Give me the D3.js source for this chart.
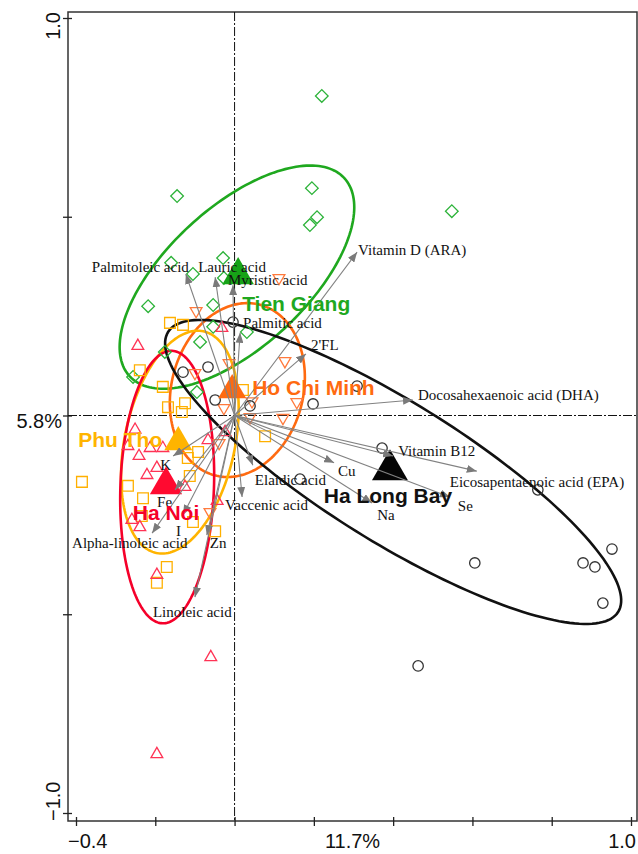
<!DOCTYPE html>
<html>
<head>
<meta charset="utf-8">
<script src="https://cdn.jsdelivr.net/npm/d3@7"></script>
<style>
  html, body { margin: 0; padding: 0; background: #fff; }
  svg { display: block; }
</style>
</head>
<body>
<svg id="chart" width="638" height="854"></svg>
<script>
// ---- Sample scores (axis 1, axis 2) per region ----
const tienGiangSamples = [
  [0.220, 0.804], [-0.145, 0.552], [0.195, 0.572], [0.208, 0.499], [0.190, 0.479],
  [0.548, 0.514], [-0.029, 0.396], [-0.160, 0.384], [-0.105, 0.356], [-0.027, 0.346],
  [-0.218, 0.275], [-0.054, 0.278], [-0.054, 0.223], [0.031, 0.210], [-0.087, 0.185],
  [-0.176, 0.160], [-0.256, 0.097], [-0.095, 0.059]
];
const hoChiMinhSamples = [
  [0.112, 0.346], [-0.097, 0.263], [0.127, 0.137], [-0.014, 0.132], [-0.100, 0.107],
  [-0.027, 0.019], [0.044, 0.036], [0.039, -0.004], [0.122, -0.006], [0.157, 0.034],
  [-0.039, -0.069], [-0.062, -0.243]
];
const phuThoSamples = [
  [-0.163, 0.233], [-0.130, 0.228], [-0.239, 0.114], [-0.181, 0.072], [-0.168, 0.021],
  [-0.125, 0.031], [-0.133, 0.009], [0.021, 0.064], [0.077, -0.052], [-0.092, -0.092],
  [-0.118, -0.107], [-0.113, -0.152], [-0.385, -0.167], [-0.269, -0.177], [-0.231, -0.208],
  [-0.234, -0.253], [-0.105, -0.268], [-0.049, -0.291], [-0.171, -0.381], [-0.196, -0.421]
];
const haNoiSamples = [
  [-0.244, 0.175], [-0.032, 0.220], [-0.251, -0.036], [-0.269, -0.077], [-0.213, -0.082],
  [-0.181, -0.082], [-0.241, -0.102], [-0.221, -0.150], [-0.196, -0.132], [-0.125, -0.180],
  [-0.024, -0.042], [-0.067, -0.062], [-0.044, -0.215], [-0.259, -0.263], [-0.239, -0.281],
  [-0.196, -0.401], [-0.060, -0.608], [-0.196, -0.852]
];
const haLongBaySamples = [
  [-0.004, 0.235], [-0.130, 0.109], [-0.067, 0.122], [-0.049, 0.039], [0.039, 0.024],
  [0.198, 0.029], [0.309, 0.074], [0.165, -0.160], [0.372, -0.082], [0.765, -0.187],
  [0.606, -0.371], [0.879, -0.371], [0.909, -0.381], [0.952, -0.336], [0.929, -0.472],
  [0.463, -0.630]
];

// ---- Region centroids and confidence ellipses ----
const regionNames = ["Tien Giang", "Ho Chi Minh", "Phu Tho", "Ha Noi", "Ha Long Bay"];
const regionCentroids = [[0.009, 0.353], [-0.006, 0.064], [-0.142, -0.067], [-0.173, -0.175], [0.392, -0.137]];
const ellipseCenters = [[0.006, 0.348], [0.007, 0.064], [-0.138, -0.067], [-0.170, -0.180], [0.400, -0.142]];
const ellipseSemiAxes = [[0.368, 0.176], [0.222, 0.166], [0.285, 0.139], [0.343, 0.118], [0.668, 0.176]];
const ellipseAngles = [42.6, 75, 78, 88, -31.8];   // degrees, major axis from +x

// ---- Nutrient vectors ----
const nutrientNames = [
  "Vitamin D (ARA)", "Palmitoleic acid", "Lauric acid", "Myristic acid", "Palmitic acid",
  "2'FL", "Docosahexaenoic acid (DHA)", "Vitamin B12", "Eicosapentaenoic acid (EPA)", "Se",
  "Na", "Cu", "Elaidic acid", "Vaccenic acid", "Zn",
  "I", "Alpha-linoleic acid", "Fe", "K", "Linoleic acid"
];
const nutrientX = [0.309, -0.123, -0.049, -0.004, 0.014, 0.180, 0.450, 0.400, 0.611, 0.543,
                   0.347, 0.251, 0.046, 0.019, -0.070, -0.130, -0.208, -0.150, -0.155, -0.100];
const nutrientY = [0.411, 0.356, 0.348, 0.328, 0.208, 0.155, 0.039, -0.102, -0.140, -0.205,
                   -0.220, -0.119, -0.125, -0.205, -0.301, -0.250, -0.296, -0.187, -0.102, -0.457];

// ---- Axis ticks ----
const xTicks = [-0.4, -0.2, 0, 0.2, 0.4, 0.6, 0.8, 1.0];
const yTicks = [-1.0, -0.5, 0, 0.5, 1.0];
const xAxisTitle = "11.7%";
const yAxisTitle = "5.8%";

// ---- Layout & styles ----
const frame = { left: 68, right: 637, top: 12, bottom: 821 };
const regionStroke = ["#1fa81f", "#ff6a10", "#ffb400", "#f5002a", "#111111"];
const markerStroke = ["#2db33a", "#ff7a3d", "#ffb000", "#ff3355", "#333333"];
const centroidFill = ["#17a317", "#ff6a10", "#ffb400", "#ff0a30", "#050505"];
const centroidSize = [430, 340, 340, 450, 560];
const regionLabelOffset = [[4, 36, "start"], [20, 5, "start"], [-16, 5, "end"], [0, 35, "middle"], [-2, 33, "middle"]];
const nutrientLabelOffset = [[1, 3], [-94, -2], [-17, -5], [-5, 0], [3, -5], [5, -4], [5, 0], [5, 0], [-27, 16], [8, 14],
                             [5, 17], [4, 13], [2, 20], [-17, 13], [3, 13], [-7, 21], [-80, 15], [-18, 17], [-13, 14], [-42, 20]];

const svg = d3.select("#chart");
const x = d3.scaleLinear().domain([-0.4, 1.0]).range([76, 631]);
const y = d3.scaleLinear().domain([-1.0, 1.0]).range([813, 18]);

// frame
svg.append("rect")
  .attr("x", frame.left).attr("y", frame.top)
  .attr("width", frame.right - frame.left).attr("height", frame.bottom - frame.top)
  .attr("fill", "none").attr("stroke", "#333").attr("stroke-width", 1.5);

// ticks crossing the frame
svg.append("g").attr("transform", `translate(0,${frame.bottom - 4})`)
  .call(d3.axisBottom(x).tickValues(xTicks).tickSize(9).tickFormat(""))
  .call(g => { g.select(".domain").remove(); g.selectAll("line").attr("stroke", "#222").attr("stroke-width", 1.3); });
svg.append("g").attr("transform", `translate(${frame.left + 4},0)`)
  .call(d3.axisLeft(y).tickValues(yTicks).tickSize(9).tickFormat(""))
  .call(g => { g.select(".domain").remove(); g.selectAll("line").attr("stroke", "#222").attr("stroke-width", 1.3); });

// dash-dot zero lines
svg.append("line")
  .attr("x1", x(0)).attr("x2", x(0)).attr("y1", frame.top).attr("y2", frame.bottom)
  .attr("stroke", "#111").attr("stroke-width", 1).attr("stroke-dasharray", "9,2,2,2");
svg.append("line")
  .attr("x1", frame.left).attr("x2", frame.right).attr("y1", y(0)).attr("y2", y(0))
  .attr("stroke", "#111").attr("stroke-width", 1).attr("stroke-dasharray", "9,2,2,2");

// axis labels
const axisFont = "'Liberation Sans', Arial, sans-serif";
const axisText = svg.append("g").attr("font-family", axisFont).attr("font-size", 20).attr("fill", "#111");
axisText.append("text").attr("x", frame.left).attr("y", 848).attr("text-anchor", "start").text(d3.format(".1f")(xTicks[0]));
axisText.append("text").attr("x", (frame.left + frame.right) / 2).attr("y", 848).attr("text-anchor", "middle").text(xAxisTitle);
axisText.append("text").attr("x", frame.right - 1).attr("y", 848).attr("text-anchor", "end").text(d3.format(".1f")(xTicks[xTicks.length - 1]));
axisText.append("text").attr("x", 62).attr("y", y(0) + 12).attr("text-anchor", "end").text(yAxisTitle);
axisText.append("text").attr("transform", `translate(60,${frame.top}) rotate(-90)`).attr("text-anchor", "end")
  .text(d3.format(".1f")(yTicks[yTicks.length - 1]));
axisText.append("text").attr("transform", `translate(60,${frame.bottom}) rotate(-90)`).attr("text-anchor", "start")
  .text(d3.format(".1f")(yTicks[0]));

// confidence ellipses
const ellipseLine = d3.line().curve(d3.curveLinearClosed);
ellipseCenters.forEach((c, i) => {
  const [a, b] = ellipseSemiAxes[i];
  const th = ellipseAngles[i] * Math.PI / 180;
  const pts = d3.range(0, 180).map(k => {
    const t = k / 180 * 2 * Math.PI;
    const u = a * Math.cos(t), v = b * Math.sin(t);
    return [x(c[0] + u * Math.cos(th) - v * Math.sin(th)), y(c[1] + u * Math.sin(th) + v * Math.cos(th))];
  });
  svg.append("path").attr("d", ellipseLine(pts))
    .attr("fill", "none").attr("stroke", regionStroke[i]).attr("stroke-width", 2.6);
});

// sample markers
const sampleSets = [tienGiangSamples, hoChiMinhSamples, phuThoSamples, haNoiSamples, haLongBaySamples];
const markerShape = [
  { type: d3.symbolSquare, size: 80, rotate: 45 },
  { type: d3.symbolTriangle, size: 60, rotate: 180 },
  { type: d3.symbolSquare, size: 115, rotate: 0 },
  { type: d3.symbolTriangle, size: 60, rotate: 0 },
  { type: d3.symbolCircle, size: 85, rotate: 0 }
];
sampleSets.forEach((set, i) => {
  const m = markerShape[i];
  svg.append("g").selectAll("path").data(set).join("path")
    .attr("d", d3.symbol(m.type, m.size))
    .attr("transform", d => `translate(${x(d[0])},${y(d[1])}) rotate(${m.rotate})`)
    .attr("fill", "none").attr("stroke", markerStroke[i]).attr("stroke-width", 1.3);
});

// centroids
regionCentroids.forEach((c, i) => {
  svg.append("path")
    .attr("d", d3.symbol(d3.symbolTriangle, centroidSize[i])())
    .attr("transform", `translate(${x(c[0])},${y(c[1])})`)
    .attr("fill", centroidFill[i]);
});

// nutrient arrows
svg.append("defs").append("marker")
  .attr("id", "head").attr("markerUnits", "userSpaceOnUse")
  .attr("viewBox", "0 0 10 8").attr("refX", 10).attr("refY", 4)
  .attr("markerWidth", 10).attr("markerHeight", 8).attr("orient", "auto")
  .append("path").attr("d", "M0,0 L10,4 L0,8 Z").attr("fill", "#7a7a7a");

const arrows = svg.append("g");
nutrientNames.forEach((n, i) => {
  arrows.append("line")
    .attr("x1", x(0)).attr("y1", y(0))
    .attr("x2", x(nutrientX[i])).attr("y2", y(nutrientY[i]))
    .attr("stroke", "#828282").attr("stroke-width", 1.1)
    .attr("marker-end", "url(#head)");
});

// nutrient labels
const nutrientText = svg.append("g")
  .attr("font-family", "'Liberation Serif', 'Times New Roman', serif")
  .attr("font-size", 15).attr("fill", "#111");
nutrientNames.forEach((n, i) => {
  nutrientText.append("text")
    .attr("x", x(nutrientX[i]) + nutrientLabelOffset[i][0])
    .attr("y", y(nutrientY[i]) + nutrientLabelOffset[i][1])
    .text(n);
});

// region labels
const regionText = svg.append("g")
  .attr("font-family", axisFont).attr("font-weight", "bold").attr("font-size", 21);
regionNames.forEach((n, i) => {
  const [dx, dy, anchor] = regionLabelOffset[i];
  regionText.append("text")
    .attr("x", x(regionCentroids[i][0]) + dx)
    .attr("y", y(regionCentroids[i][1]) + dy)
    .attr("text-anchor", anchor)
    .attr("fill", regionStroke[i])
    .text(n);
});
</script>
</body>
</html>
